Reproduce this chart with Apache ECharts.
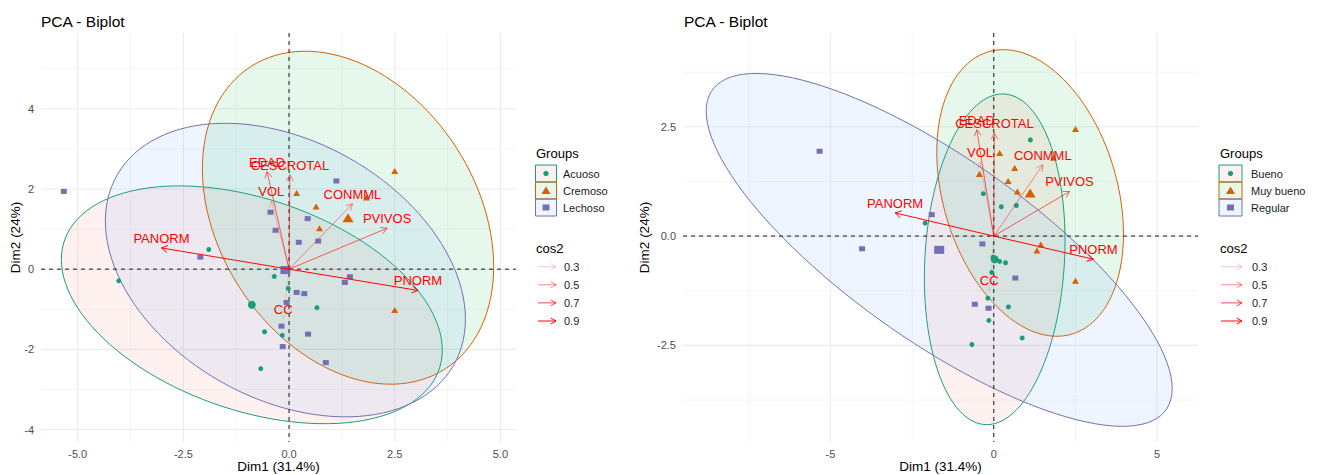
<!DOCTYPE html>
<html>
<head>
<meta charset="utf-8">
<title>PCA - Biplot</title>
<script src="https://cdn.jsdelivr.net/npm/echarts@6.0.0/dist/echarts.min.js"></script>
<style>
html, body { margin:0; padding:0; background:#ffffff; }
#chart { width:1325px; height:475px; }
</style>
</head>
<body>
<div id="chart"></div>
<script>
const FONT = "'Liberation Sans', Arial, Helvetica, sans-serif";

// ---------- individuals (Dim1, Dim2) ----------
const indDim1 = [-1.90, -4.03, -0.35, -0.02, 0.66, -0.58, -0.16, -0.67,
                 2.50, 0.18, 0.64, 0.72, 1.83, 2.50,
                 -5.33, -2.10, 1.12, -0.44, -0.32, 0.44, 0.23, 0.69, 1.44, 1.32, 0.18, 0.36, -0.06, -0.18, 0.45, -0.15, 0.87];
const indDim2 = [0.49, -0.29, -0.18, -0.48, -0.96, -1.56, -1.65, -2.48,
                 2.45, 1.90, 1.56, 1.02, 1.79, -1.02,
                 1.94, 0.30, 2.20, 1.42, 0.97, 1.26, 0.67, 0.70, -0.19, -0.33, -0.58, -0.61, -0.83, -1.42, -1.62, -1.93, -2.33];
const groupTextura = ['Acuoso','Acuoso','Acuoso','Acuoso','Acuoso','Acuoso','Acuoso','Acuoso',
                      'Cremoso','Cremoso','Cremoso','Cremoso','Cremoso','Cremoso',
                      'Lechoso','Lechoso','Lechoso','Lechoso','Lechoso','Lechoso','Lechoso','Lechoso','Lechoso',
                      'Lechoso','Lechoso','Lechoso','Lechoso','Lechoso','Lechoso','Lechoso','Lechoso'];
const groupCalidad = ['Regular','Regular','Regular','Bueno','Regular','Regular','Regular','Bueno',
                      'Muy bueno','Muy bueno','Muy bueno','Muy bueno','Muy bueno','Muy bueno',
                      'Regular','Bueno','Bueno','Muy bueno','Bueno','Muy bueno','Bueno','Bueno','Muy bueno',
                      'Muy bueno','Bueno','Bueno','Bueno','Bueno','Bueno','Bueno','Bueno'];
const groupsTextura = ['Acuoso', 'Cremoso', 'Lechoso'];
const groupsCalidad = ['Bueno', 'Muy bueno', 'Regular'];

// ---------- variables (arrows) ----------
const varNames = ['PANORM', 'PNORM', 'PVIVOS', 'CONMML', 'EDAD', 'CESCROTAL', 'VOL', 'CC'];
const varDim1  = [-3.02, 3.05, 2.32, 1.50, -0.52, 0.02, -0.42, -0.14];
const varDim2  = [0.53, -0.53, 1.02, 1.63, 2.43, 2.35, 1.69, -1.24];
const varCos2  = [0.90, 0.92, 0.61, 0.47, 0.59, 0.53, 0.29, 0.20];
const cos2Breaks = [0.3, 0.5, 0.7, 0.9];

// ---------- ticks ----------
const xTicksA = [-5, -2.5, 0, 2.5, 5];
const xLabelsA = ['-5.0', '-2.5', '0.0', '2.5', '5.0'];
const xMinorA = [-3.75, -1.25, 1.25, 3.75];
const yTicksA = [-4, -2, 0, 2, 4];
const yLabelsA = ['-4', '-2', '0', '2', '4'];
const yMinorA = [-3, -1, 1, 3, 5];
const xTicksB = [-5, 0, 5];
const xLabelsB = ['-5', '0', '5'];
const xMinorB = [-7.5, -2.5, 2.5];
const yTicksB = [-2.5, 0, 2.5];
const yLabelsB = ['-2.5', '0.0', '2.5'];
const yMinorB = [-3.75, -1.25, 1.25, 3.75];

// ---------- styles ----------
const groupLine = ['#1B9E77', '#D95F02', '#7570B3'];
const groupFill = ['rgba(248,118,109,0.1)', 'rgba(0,186,56,0.1)', 'rgba(97,156,255,0.1)'];
const groupSymbol = ['circle', 'triangle', 'rect'];
const pointSize = [5, [7, 6], [6, 5]];
const meanSize = [8, [11, 9], [10, 8]];

const cMin = Math.min.apply(null, varCos2), cMax = Math.max.apply(null, varCos2);
function cosAlpha(c) { return Math.max(0.08, Math.min(1, 0.1 + 0.9 * (c - cMin) / (cMax - cMin))); }
function cosColor(c) { return 'rgba(255,0,0,' + cosAlpha(c).toFixed(3) + ')'; }

// normal-theory 95% ellipse (as ggplot stat_ellipse type = "norm")
function groupStats(assign, name) {
  const xs = [], ys = [];
  assign.forEach(function (g, i) { if (g === name) { xs.push(indDim1[i]); ys.push(indDim2[i]); } });
  const n = xs.length;
  const mx = xs.reduce(function (a, b) { return a + b; }, 0) / n;
  const my = ys.reduce(function (a, b) { return a + b; }, 0) / n;
  let sxx = 0, syy = 0, sxy = 0;
  for (let i = 0; i < n; i++) { const dx = xs[i] - mx, dy = ys[i] - my; sxx += dx * dx; syy += dy * dy; sxy += dx * dy; }
  sxx /= (n - 1); syy /= (n - 1); sxy /= (n - 1);
  const dfd = n - 1;
  const fq = dfd / 2 * (Math.pow(0.05, -2 / dfd) - 1);
  const rad = Math.sqrt(2 * fq);
  const r11 = Math.sqrt(sxx), r12 = sxy / r11, r22 = Math.sqrt(Math.max(syy - r12 * r12, 0));
  const ell = [];
  for (let k = 0; k <= 120; k++) {
    const t = 2 * Math.PI * k / 120, c = Math.cos(t), s = Math.sin(t);
    ell.push([mx + rad * c * r11, my + rad * (c * r12 + s * r22)]);
  }
  return { points: xs.map(function (x, i) { return [x, ys[i]]; }), mean: [mx, my], ellipse: ell };
}

const panels = [
  { groups: groupsTextura, assign: groupTextura, left: 41, width: 475,
    xMin: -5.87, xMax: 5.37, yMin: -4.31, yMax: 5.89,
    xTicks: xTicksA, xLabels: xLabelsA, xMinor: xMinorA, yTicks: yTicksA, yLabels: yLabelsA, yMinor: yMinorA,
    yNameGap: 19, titleX: 41,
    leg: { titleX: 536, boxX: 535.5, boxW: 21, labX: 563, arrX1: 538, arrX2: 556 } },
  { groups: groupsCalidad, assign: groupCalidad, left: 683, width: 515,
    xMin: -9.51, xMax: 6.25, yMin: -4.71, yMax: 4.645,
    xTicks: xTicksB, xLabels: xLabelsB, xMinor: xMinorB, yTicks: yTicksB, yLabels: yLabelsB, yMinor: yMinorB,
    yNameGap: 32, titleX: 684,
    leg: { titleX: 1220, boxX: 1219, boxW: 23, labX: 1251, arrX1: 1221, arrX2: 1242 } }
];

function labelFor(ticks, labels) {
  return function (v) {
    let best = -1, bd = 1e9;
    ticks.forEach(function (t, i) { const d = Math.abs(t - v); if (d < bd) { bd = d; best = i; } });
    return bd < 1e-6 ? labels[best] : '';
  };
}

function arrowHead(tx, ty, ang, L) {
  const A = Math.PI / 6;
  return [[tx - L * Math.cos(ang - A), ty - L * Math.sin(ang - A)], [tx, ty], [tx - L * Math.cos(ang + A), ty - L * Math.sin(ang + A)]];
}

const option = {
  animation: false,
  backgroundColor: '#ffffff',
  title: panels.map(function (p) {
    return { text: 'PCA - Biplot', left: p.titleX, top: 13, padding: 0,
      textStyle: { fontSize: 15.5, fontWeight: 'normal', color: '#000000', fontFamily: FONT } };
  }),
  grid: panels.map(function (p) {
    return { left: p.left, top: 33, width: p.width, height: 409, containLabel: false, outerBoundsMode: 'none' };
  }),
  xAxis: panels.map(function (p, i) {
    return { type: 'value', gridIndex: i, min: p.xMin, max: p.xMax,
      axisLine: { show: false }, axisTick: { show: false }, splitLine: { show: false },
      axisLabel: { customValues: p.xTicks, formatter: labelFor(p.xTicks, p.xLabels), color: '#4D4D4D', fontSize: 11, fontFamily: FONT, margin: 6 },
      name: 'Dim1 (31.4%)', nameLocation: 'middle', nameGap: 17, nameMoveOverlap: false,
      nameTextStyle: { color: '#000000', fontSize: 13.5, fontFamily: FONT } };
  }),
  yAxis: panels.map(function (p, i) {
    return { type: 'value', gridIndex: i, min: p.yMin, max: p.yMax,
      axisLine: { show: false }, axisTick: { show: false }, splitLine: { show: false },
      axisLabel: { customValues: p.yTicks, formatter: labelFor(p.yTicks, p.yLabels), color: '#4D4D4D', fontSize: 11, fontFamily: FONT, margin: 7 },
      name: 'Dim2 (24%)', nameLocation: 'middle', nameGap: p.yNameGap, nameMoveOverlap: false,
      nameTextStyle: { color: '#000000', fontSize: 13.5, fontFamily: FONT } };
  }),
  series: [],
  graphic: { elements: [] }
};

panels.forEach(function (p, pi) {
  const stats = p.groups.map(function (g) { return groupStats(p.assign, g); });

  // grid lines
  const gridData = [];
  p.xTicks.forEach(function (v) { gridData.push([v, 0, 0]); });
  p.xMinor.forEach(function (v) { gridData.push([v, 0, 1]); });
  p.yTicks.forEach(function (v) { gridData.push([0, v, 2]); });
  p.yMinor.forEach(function (v) { gridData.push([0, v, 3]); });
  option.series.push({
    type: 'custom', xAxisIndex: pi, yAxisIndex: pi, z: 1, silent: true, clip: false,
    data: gridData,
    renderItem: function (params, api) {
      const cs = params.coordSys, kind = api.value(2);
      const pt = api.coord([api.value(0), api.value(1)]);
      const minor = (kind === 1 || kind === 3);
      const st = { stroke: minor ? '#F1F1F1' : '#EBEBEB', lineWidth: minor ? 0.8 : 1.1 };
      if (kind < 2) return { type: 'line', shape: { x1: pt[0], y1: cs.y, x2: pt[0], y2: cs.y + cs.height }, style: st };
      return { type: 'line', shape: { x1: cs.x, y1: pt[1], x2: cs.x + cs.width, y2: pt[1] }, style: st };
    }
  });

  // ellipses
  option.series.push({
    type: 'custom', xAxisIndex: pi, yAxisIndex: pi, z: 2, silent: true, clip: false,
    data: stats.map(function (s, gi) { return [s.mean[0], s.mean[1], gi]; }),
    renderItem: function (params, api) {
      const gi = api.value(2);
      const pts = stats[gi].ellipse.map(function (q) { return api.coord(q); });
      return { type: 'polygon', shape: { points: pts }, style: { fill: groupFill[gi], stroke: groupLine[gi], lineWidth: 1 } };
    }
  });

  // zero lines
  option.series.push({
    type: 'custom', xAxisIndex: pi, yAxisIndex: pi, z: 3, silent: true, clip: false,
    data: [[0, 0]],
    renderItem: function (params, api) {
      const cs = params.coordSys, o = api.coord([api.value(0), api.value(1)]);
      const st = { stroke: '#1a1a1a', lineWidth: 1, lineDash: [4, 4] };
      return { type: 'group', children: [
        { type: 'line', shape: { x1: cs.x, y1: o[1], x2: cs.x + cs.width, y2: o[1] }, style: st },
        { type: 'line', shape: { x1: o[0], y1: cs.y, x2: o[0], y2: cs.y + cs.height }, style: st }
      ] };
    }
  });

  // individuals + group means
  p.groups.forEach(function (g, gi) {
    option.series.push({
      type: 'scatter', name: g, xAxisIndex: pi, yAxisIndex: pi, z: 4, silent: true,
      symbol: groupSymbol[gi], symbolSize: pointSize[gi],
      itemStyle: { color: groupLine[gi], opacity: 1 },
      data: stats[gi].points
    });
    option.series.push({
      type: 'scatter', name: g + ' (mean)', xAxisIndex: pi, yAxisIndex: pi, z: 4, silent: true,
      symbol: groupSymbol[gi], symbolSize: meanSize[gi],
      itemStyle: { color: groupLine[gi], opacity: 1 },
      data: [stats[gi].mean]
    });
  });

  // variable arrows
  option.series.push({
    type: 'custom', xAxisIndex: pi, yAxisIndex: pi, z: 5, silent: true, clip: false,
    data: varNames.map(function (n, k) { return [varDim1[k], varDim2[k], varCos2[k]]; }),
    renderItem: function (params, api) {
      const o = api.coord([0, 0]);
      const t = api.coord([api.value(0), api.value(1)]);
      const col = cosColor(api.value(2));
      const ang = Math.atan2(t[1] - o[1], t[0] - o[0]);
      return { type: 'group', children: [
        { type: 'line', shape: { x1: o[0], y1: o[1], x2: t[0], y2: t[1] }, style: { stroke: col, lineWidth: 1 } },
        { type: 'polyline', shape: { points: arrowHead(t[0], t[1], ang, 7) }, style: { stroke: col, lineWidth: 1, fill: null } },
        { type: 'text', style: { text: varNames[params.dataIndex], x: t[0], y: t[1] - 3,
          align: 'center', verticalAlign: 'bottom', textAlign: 'center', textVerticalAlign: 'bottom',
          fill: '#FF0000', font: '13px ' + FONT } }
      ] };
    }
  });

  // legends
  const L = p.leg, els = option.graphic.elements;
  function txt(s, x, y, size, color) {
    return { type: 'text', silent: true, z: 10, style: { text: s, x: x, y: y, fill: color, font: size + 'px ' + FONT,
      align: 'left', verticalAlign: 'middle', textAlign: 'left', textVerticalAlign: 'middle' } };
  }
  els.push(txt('Groups', L.titleX, 153, 13, '#000000'));
  p.groups.forEach(function (g, gi) {
    const cy = 173.5 + 17 * gi, cx = L.boxX + L.boxW / 2;
    els.push({ type: 'rect', silent: true, z: 10, shape: { x: L.boxX, y: cy - 8.5, width: L.boxW, height: 17 },
      style: { fill: groupFill[gi], stroke: groupLine[gi], lineWidth: 1 } });
    if (gi === 0) els.push({ type: 'circle', silent: true, z: 11, shape: { cx: cx, cy: cy, r: 2.7 }, style: { fill: groupLine[gi] } });
    else if (gi === 1) els.push({ type: 'polygon', silent: true, z: 11, shape: { points: [[cx, cy - 4], [cx + 4.5, cy + 3.5], [cx - 4.5, cy + 3.5]] }, style: { fill: groupLine[gi] } });
    else els.push({ type: 'rect', silent: true, z: 11, shape: { x: cx - 3.5, y: cy - 3, width: 7, height: 6 }, style: { fill: groupLine[gi] } });
    els.push(txt(g, L.labX, cy, 11, '#1A1A1A'));
  });
  els.push(txt('cos2', L.titleX, 248, 13, '#000000'));
  cos2Breaks.forEach(function (b, bi) {
    const y = 266.7 + 18.1 * bi, col = cosColor(b);
    els.push({ type: 'line', silent: true, z: 10, shape: { x1: L.arrX1, y1: y, x2: L.arrX2, y2: y }, style: { stroke: col, lineWidth: 1 } });
    els.push({ type: 'polyline', silent: true, z: 10, shape: { points: arrowHead(L.arrX2, y, 0, 6) }, style: { stroke: col, lineWidth: 1, fill: null } });
    els.push(txt(b.toFixed(1), L.labX + 1, y, 11, '#1A1A1A'));
  });
});

const chart = echarts.init(document.getElementById('chart'), null, { renderer: 'svg', width: 1325, height: 475 });
chart.setOption(option);
</script>
</body>
</html>
